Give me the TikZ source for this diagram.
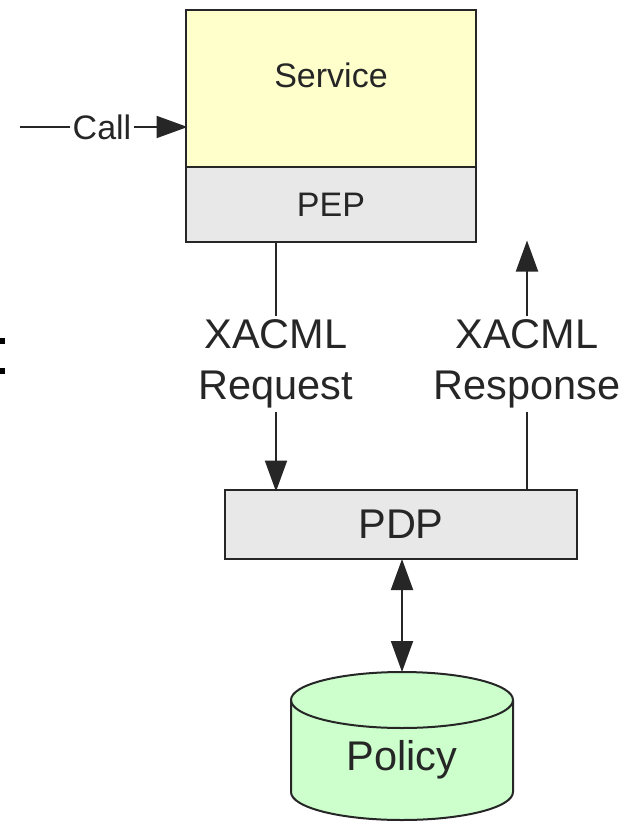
\documentclass[tikz,border=0pt]{standalone}
\usepackage{fontspec}
\setmainfont{Liberation Sans}
\usetikzlibrary{arrows.meta}
\definecolor{svcfill}{HTML}{FFFFCC}
\definecolor{boxfill}{HTML}{E8E8E8}
\definecolor{dbfill}{HTML}{CCFFCC}
\definecolor{ink}{HTML}{262626}
\tikzset{
  box/.style={draw=ink, line width=2.2pt, rectangle, inner sep=0pt, outer sep=0pt},
  smalltxt/.style={text=ink, font=\fontsize{34}{40}\selectfont},
  bigtxt/.style={text=ink, font=\fontsize{41.5}{51}\selectfont, align=center},
  tip/.style={-{Triangle[length=31pt,width=22pt]}, shorten >=-1.5pt},
  dtip/.style={{Triangle[length=31pt,width=22pt]}-{Triangle[length=31pt,width=22pt]}},
}
\begin{document}
\begin{tikzpicture}[x=1pt,y=-1pt, line width=2pt, color=ink]
\useasboundingbox (0,0) rectangle (634,822);

% service with its enforcement point
\node[box, fill=svcfill, minimum width=290pt, minimum height=157pt] (service) at (331,88.5) {};
\node[smalltxt] (servicelbl) at (331,75) {Service};
\node[box, fill=boxfill, minimum width=290pt, minimum height=75pt] (pep) at (331,204.5) {};
\node[smalltxt] at (pep.center) {PEP};

% decision point
\node[box, fill=boxfill, minimum width=352pt, minimum height=69pt] (pdp) at (401,524.5) {};
\node[bigtxt] at (pdp.center) {PDP};

% policy store
\fill[dbfill] (291,700) -- (291,792) arc[start angle=180,end angle=0,x radius=111,y radius=28]
  -- (513,700) arc[start angle=0,end angle=-180,x radius=111,y radius=28] -- cycle;
\draw (291,700) -- (291,792) arc[start angle=180,end angle=0,x radius=111,y radius=28] -- (513,700);
\draw (402,700) ellipse[x radius=111,y radius=28];
\coordinate (dbtop) at (402,672);
\node[bigtxt] (policy) at (402,760) {Policy};

% incoming call
\coordinate (callstart) at (20,127);
\node[smalltxt, inner sep=2pt] (call) at (102,127) {Call};
\draw (callstart) -- (call.west);
\draw[tip] (call.east) -- (call.east -| service.west);

% request / response
\node[bigtxt, inner sep=3pt] (req) at (276,364) {XACML\\Request};
\node[bigtxt, inner sep=3pt] (resp) at (527,364) {XACML\\Response};
\draw (pep.south -| req) -- (req.north);
\draw[tip] (req.south) -- (pdp.north -| req);
\draw[tip] (resp.north) -- (pep.south -| resp);
\draw (pdp.north -| resp) -- (resp.south);

% policy lookup
\draw[dtip] (pdp.south -| dbtop) -- (dbtop);

% glyph fragments at the left edge
\fill[black] (0,338) rectangle (5,344);
\fill[black] (0,368) rectangle (5,374);
\end{tikzpicture}
\end{document}
